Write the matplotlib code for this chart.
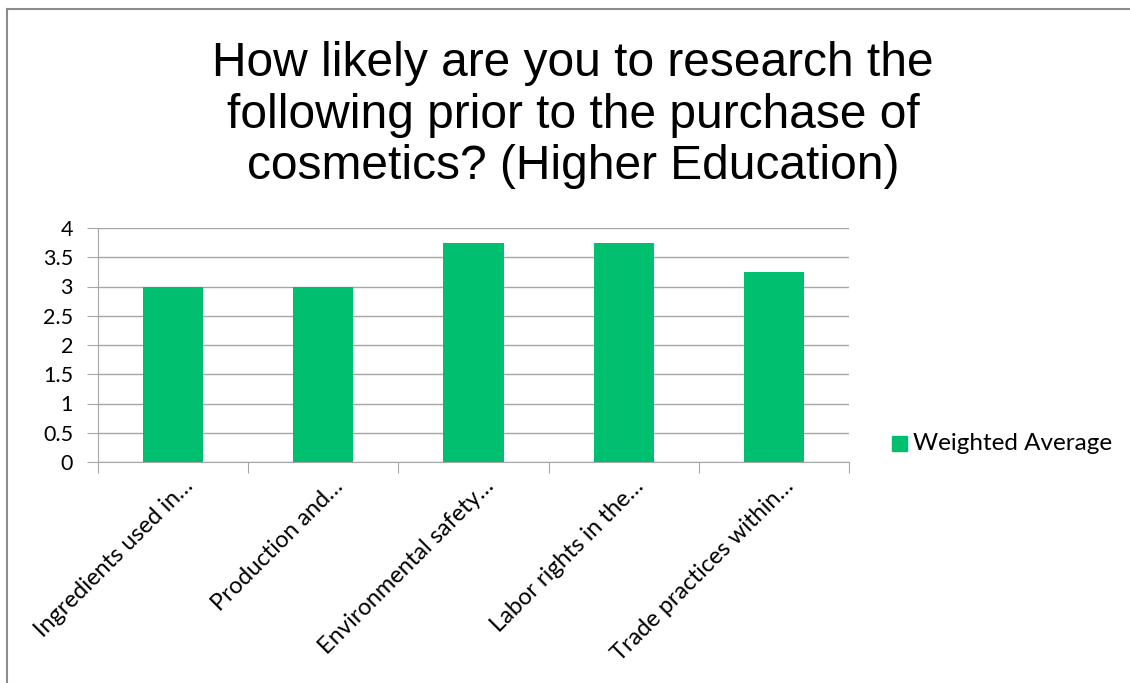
import matplotlib.pyplot as plt
from matplotlib.patches import Rectangle

categories = ["Ingredients used in\u2026", "Production and\u2026", "Environmental safety\u2026",
              "Labor rights in the\u2026", "Trade practices within\u2026"]
weighted_average = [3.0, 3.0, 3.75, 3.75, 3.25]
yticks = [0, 0.5, 1, 1.5, 2, 2.5, 3, 3.5, 4]
ytick_labels = ["0", "0.5", "1", "1.5", "2", "2.5", "3", "3.5", "4"]

green = "#00BF6F"
grid = "#a6a6a6"
label_font = ["Lato", "DejaVu Sans"]

fig = plt.figure(figsize=(11.3, 6.83), dpi=100)
fig.patch.set_facecolor("white")

# chart frame (only the left and top edges show)
fig.add_artist(plt.Line2D([7 / 1130, 7 / 1130], [0, 1 - 9 / 683], color="#8c8c8c", lw=1.5,
                          transform=fig.transFigure))
fig.add_artist(plt.Line2D([7 / 1130, 1], [1 - 9 / 683, 1 - 9 / 683], color="#8c8c8c", lw=1.5,
                          transform=fig.transFigure))

ax = fig.add_axes([98 / 1130, 1 - 462 / 683, (849 - 98) / 1130, (462 - 228) / 683])
x = list(range(len(categories)))
ax.bar(x, weighted_average, width=0.4, color=green, zorder=3, label="Weighted Average")

ax.set_xlim(-0.5, len(categories) - 0.5)
ax.set_ylim(0, 4)
ax.set_yticks(yticks)
ax.set_yticklabels(ytick_labels, fontsize=15.5, family=label_font)
ax.yaxis.grid(True, color=grid, lw=1, zorder=0)
ax.tick_params(axis="y", length=8, color=grid, pad=10)

# category boundary ticks on the x axis
ax.set_xticks([i - 0.5 for i in range(len(categories) + 1)], minor=False)
ax.set_xticklabels([])
ax.tick_params(axis="x", length=8, color=grid, direction="out")
for i, name in enumerate(categories):
    ax.annotate(name, xy=(i, 0), xycoords=("data", "axes fraction"),
                xytext=(12, -15), textcoords="offset points",
                rotation=45, rotation_mode="anchor", ha="right", va="center",
                fontsize=17, family=label_font)

for side in ["top", "right"]:
    ax.spines[side].set_visible(False)
ax.spines["left"].set_color(grid)
ax.spines["bottom"].set_color(grid)

fig.text(573 / 1130, 1 - 115 / 683,
         "How likely are you to research the\nfollowing prior to the purchase of\ncosmetics? (Higher Education)",
         ha="center", va="center", fontsize=34.5, family="Liberation Sans", linespacing=1.18)

# legend
fig.patches.append(Rectangle((892 / 1130, 1 - 451 / 683), 15 / 1130, 15 / 683,
                             color=green, transform=fig.transFigure))
fig.text(913 / 1130, 1 - 443 / 683, "Weighted Average", ha="left", va="center",
         fontsize=17.5, family=label_font)

fig.savefig("out.png", dpi=100)
